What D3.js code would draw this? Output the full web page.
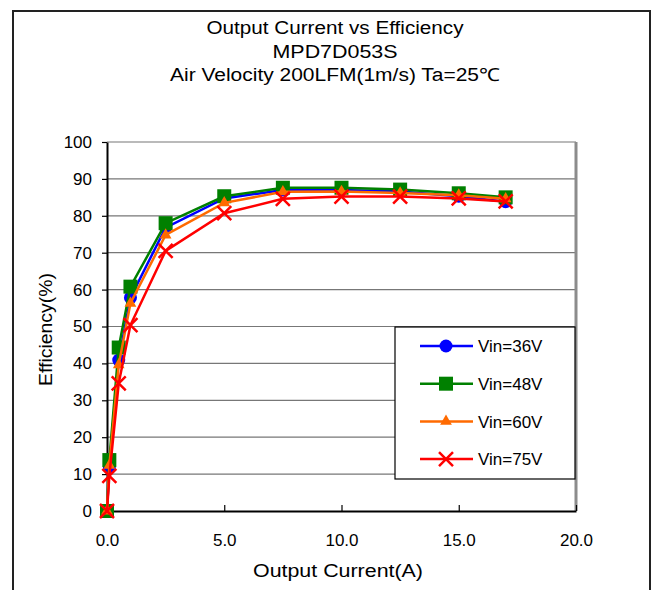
<!DOCTYPE html>
<html>
<head>
<meta charset="utf-8">
<script src="https://cdn.jsdelivr.net/npm/d3@7"></script>
<style>
  body { margin: 0; background: #fff; }
  text { font-family: "Liberation Sans", Arial, sans-serif; fill: #000; }
</style>
</head>
<body>
<script>
// chart data
var current = [0, 0.1, 0.5, 1.0, 2.5, 5.0, 7.5, 10.0, 12.5, 15.0, 17.0];
var vin36 = [0, 12.0, 40.9, 57.8, 76.8, 84.7, 87.0, 87.0, 86.6, 85.3, 83.8];
var vin48 = [0, 13.8, 44.3, 60.8, 78.0, 85.3, 87.6, 87.6, 87.1, 86.1, 85.0];
var vin60 = [0, 12.4, 39.6, 56.3, 74.8, 83.5, 86.5, 86.6, 86.2, 85.6, 84.6];
var vin75 = [0, 9.5, 34.6, 50.4, 70.5, 80.7, 84.6, 85.2, 85.2, 84.7, 83.9];
var seriesNames = ["Vin=36V", "Vin=48V", "Vin=60V", "Vin=75V"];
var xTicks = [0, 5, 10, 15, 20];
var yTicks = [0, 10, 20, 30, 40, 50, 60, 70, 80, 90, 100];
var titleLines = ["Output Current vs Efficiency", "MPD7D053S", "Air Velocity 200LFM(1m/s) Ta=25\u2103"];
var titleWidths = [257, 125, 330];

var svgWidth = 651;
var svgHeight = 590;

var plot = { left: 107, right: 576, top: 142, bottom: 511 };

var svg = d3.select("body")
    .append("svg")
    .attr("width", svgWidth)
    .attr("height", svgHeight);

// outer chart border
svg.append("rect")
    .attr("x", 13)
    .attr("y", 11)
    .attr("width", 637)
    .attr("height", 600)
    .attr("fill", "#fff")
    .attr("stroke", "#222")
    .attr("stroke-width", 2);

// titles (stretched to the width of the original's wider font)
svg.selectAll(".title")
    .data(titleLines)
    .enter()
    .append("text")
    .attr("class", "title")
    .attr("x", 335)
    .attr("y", (d, i) => 34 + i * 23.5)
    .attr("text-anchor", "middle")
    .attr("textLength", (d, i) => titleWidths[i])
    .attr("lengthAdjust", "spacingAndGlyphs")
    .style("font-size", "18px")
    .text(d => d);

var x = d3.scaleLinear().domain([0, 20]).range([plot.left, plot.right]);
var y = d3.scaleLinear().domain([0, 100]).range([plot.bottom, plot.top]);

// gridlines
svg.append("g")
    .selectAll("line")
    .data(yTicks.slice(1))
    .enter()
    .append("line")
    .attr("x1", plot.left)
    .attr("x2", plot.right)
    .attr("y1", d => y(d))
    .attr("y2", d => y(d))
    .attr("stroke", "#777")
    .attr("stroke-width", 1.2);

// right border of plot area
svg.append("line")
    .attr("x1", plot.right)
    .attr("x2", plot.right)
    .attr("y1", plot.top)
    .attr("y2", plot.bottom)
    .attr("stroke", "#8c8c8c")
    .attr("stroke-width", 3);

// axes
var bottomAxis = d3.axisBottom(x).tickValues(xTicks).tickFormat(d3.format(".1f")).tickSizeInner(-6).tickSizeOuter(0).tickPadding(23);
var leftAxis = d3.axisLeft(y).tickValues(yTicks).tickSizeInner(5).tickSizeOuter(0).tickPadding(10);

var xAxis = svg.append("g")
    .attr("transform", "translate(0," + plot.bottom + ")")
    .call(bottomAxis);

var yAxis = svg.append("g")
    .attr("transform", "translate(" + plot.left + ",0)")
    .call(leftAxis);

[xAxis, yAxis].forEach(function(ax) {
    ax.select(".domain").attr("stroke", "#000").attr("stroke-width", 2);
    ax.selectAll(".tick line").attr("stroke", "#000").attr("stroke-width", 1.2);
    ax.selectAll(".tick text")
        .style("font-size", "17px")
        .style("font-family", "'Liberation Sans', Arial, sans-serif")
        .attr("fill", "#000");
});
xAxis.selectAll(".tick text").attr("dy", "0.71em");

// axis titles
svg.append("text")
    .attr("x", 338)
    .attr("y", 577)
    .attr("text-anchor", "middle")
    .attr("textLength", 170)
    .attr("lengthAdjust", "spacingAndGlyphs")
    .style("font-size", "18px")
    .text("Output Current(A)");

svg.append("text")
    .attr("transform", "translate(52," + ((plot.top + plot.bottom) / 2 + 3) + ") rotate(-90)")
    .attr("text-anchor", "middle")
    .attr("textLength", 113)
    .attr("lengthAdjust", "spacingAndGlyphs")
    .style("font-size", "18px")
    .text("Efficiency(%)");

// series
var series = [
    { name: seriesNames[0], values: vin36, color: "#0000ff", marker: "circle" },
    { name: seriesNames[1], values: vin48, color: "#008000", marker: "square" },
    { name: seriesNames[2], values: vin60, color: "#ff6a00", marker: "triangle" },
    { name: seriesNames[3], values: vin75, color: "#ff0000", marker: "cross" }
];

function drawMarker(g, type, color) {
    if (type == "circle") {
        g.append("circle").attr("r", 6.5).attr("fill", color);
    } else if (type == "square") {
        g.append("rect").attr("x", -7).attr("y", -7).attr("width", 14).attr("height", 14).attr("fill", color);
    } else if (type == "triangle") {
        g.append("path").attr("d", d3.symbol().type(d3.symbolTriangle).size(60)()).attr("fill", color);
    } else {
        g.append("path")
            .attr("d", "M-7,-7L7,7M-7,7L7,-7")
            .attr("stroke", color)
            .attr("stroke-width", 2.5)
            .attr("fill", "none");
    }
}

var line = d3.line()
    .x((d, i) => x(current[i]))
    .y(d => y(d));

series.forEach(function(s) {
    var g = svg.append("g");
    g.append("path")
        .attr("d", line(s.values))
        .attr("fill", "none")
        .attr("stroke", s.color)
        .attr("stroke-width", 2.5);
    s.values.forEach(function(v, i) {
        var m = g.append("g").attr("transform", "translate(" + x(current[i]) + "," + y(v) + ")");
        drawMarker(m, s.marker, s.color);
    });
});

// legend
var legend = svg.append("g");
legend.append("rect")
    .attr("x", 395)
    .attr("y", 327)
    .attr("width", 180)
    .attr("height", 152)
    .attr("fill", "#fff")
    .attr("stroke", "#000")
    .attr("stroke-width", 1.2);

series.forEach(function(s, i) {
    var ly = 346 + i * 37.7;
    legend.append("line")
        .attr("x1", 420)
        .attr("x2", 473)
        .attr("y1", ly)
        .attr("y2", ly)
        .attr("stroke", s.color)
        .attr("stroke-width", 2.5);
    var m = legend.append("g").attr("transform", "translate(446," + ly + ")");
    drawMarker(m, s.marker, s.color);
    legend.append("text")
        .attr("x", 478)
        .attr("y", ly)
        .attr("dy", "0.36em")
        .style("font-size", "17px")
        .text(s.name);
});
</script>
</body>
</html>
